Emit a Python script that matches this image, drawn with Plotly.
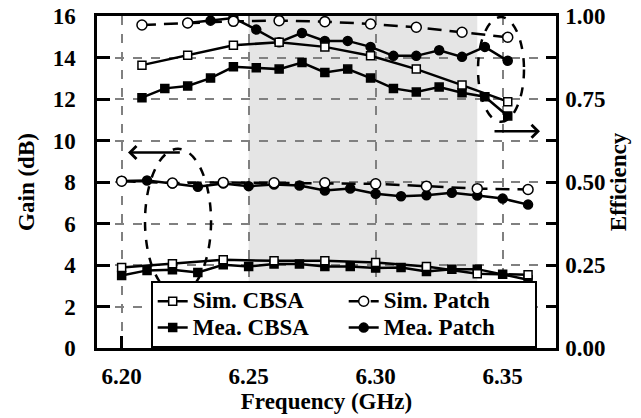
import plotly.graph_objects as go

# ---------------- data ----------------
# efficiency group (right axis)
freq_eff_mea = [6.208, 6.217, 6.226, 6.235, 6.244, 6.253, 6.262, 6.271, 6.280,
                6.289, 6.298, 6.307, 6.316, 6.325, 6.334, 6.343, 6.352]
freq_eff_sim = [6.208, 6.226, 6.244, 6.262, 6.280, 6.298, 6.316, 6.334, 6.352]
freq_eff_mea_patch = [6.226, 6.235, 6.244, 6.253, 6.262, 6.271, 6.280, 6.289,
                      6.298, 6.307, 6.316, 6.325, 6.334, 6.343, 6.352]

sim_cbsa_eff = [0.852, 0.882, 0.912, 0.921, 0.907, 0.880, 0.840, 0.792, 0.742]
sim_patch_eff = [0.973, 0.979, 0.984, 0.986, 0.983, 0.976, 0.966, 0.951, 0.936]
mea_cbsa_eff = [0.754, 0.782, 0.789, 0.813, 0.847, 0.844, 0.840, 0.860, 0.830,
                0.840, 0.813, 0.782, 0.771, 0.786, 0.769, 0.757, 0.699]
mea_patch_eff = [0.979, 0.986, 0.994, 0.959, 0.921, 0.949, 0.925, 0.925, 0.907,
                 0.880, 0.880, 0.897, 0.877, 0.907, 0.865]

# gain group (left axis)
freq_gain_mea = [6.20, 6.21, 6.22, 6.23, 6.24, 6.25, 6.26, 6.27, 6.28, 6.29,
                 6.30, 6.31, 6.32, 6.33, 6.34, 6.35, 6.36]
freq_gain_sim = [6.20, 6.22, 6.24, 6.26, 6.28, 6.30, 6.32, 6.34, 6.36]

sim_patch_gain = [8.04, 7.95, 7.98, 7.96, 7.96, 7.91, 7.80, 7.68, 7.64]
mea_patch_gain = [8.05, 8.07, 7.93, 7.77, 7.93, 7.80, 7.88, 7.83, 7.59, 7.69,
                  7.43, 7.31, 7.36, 7.48, 7.35, 7.20, 6.91]
sim_cbsa_gain = [3.88, 4.06, 4.25, 4.20, 4.20, 4.12, 3.93, 3.58, 3.53]
mea_cbsa_gain = [3.49, 3.74, 3.77, 3.64, 4.01, 3.93, 4.05, 4.05, 3.93, 3.93,
                 3.85, 3.88, 3.69, 3.80, 3.80, 3.56, 3.29]

x_ticks = [6.20, 6.25, 6.30, 6.35]
x_tick_labels = ["<b>6.20</b>", "<b>6.25</b>", "<b>6.30</b>", "<b>6.35</b>"]
band = [6.25, 6.34]

# ---------------- style ----------------
FONT = "Liberation Serif"
FS = 23
LW = 2.5
styles = {
    "Sim. CBSA": dict(symbol="square", size=8, color="white", dash="solid", rank=1),
    "Sim. Patch": dict(symbol="circle", size=10, color="white", dash="14px,8px", rank=2),
    "Mea. CBSA": dict(symbol="square", size=8, color="black", dash="solid", rank=3),
    "Mea. Patch": dict(symbol="circle", size=9, color="black", dash="solid", rank=4),
}

fig = go.Figure()


def add(name, x, y, axis, show):
    s = styles[name]
    label = "<b><span style='font-size:%dpx'>%s</span></b>" % (FS, name)
    fig.add_trace(go.Scatter(
        x=x, y=y, name=label, mode="lines+markers", yaxis=axis,
        showlegend=show, legendrank=s["rank"],
        line=dict(color="black", width=LW, dash=s["dash"]),
        marker=dict(symbol=s["symbol"], size=s["size"], color=s["color"],
                    line=dict(color="black", width=1.5)),
    ))


# measured first so the simulated (hollow) markers sit on top
add("Mea. CBSA", freq_gain_mea, mea_cbsa_gain, "y", False)
add("Mea. Patch", freq_gain_mea, mea_patch_gain, "y", False)
add("Sim. CBSA", freq_gain_sim, sim_cbsa_gain, "y", False)
add("Sim. Patch", freq_gain_sim, sim_patch_gain, "y", False)
add("Mea. CBSA", freq_eff_mea, mea_cbsa_eff, "y2", True)
add("Mea. Patch", freq_eff_mea_patch, mea_patch_eff, "y2", True)
add("Sim. CBSA", freq_eff_sim, sim_cbsa_eff, "y2", True)
add("Sim. Patch", freq_eff_sim, sim_patch_eff, "y2", True)

# shaded band
fig.add_shape(type="rect", xref="x", yref="paper", x0=band[0], x1=band[1],
              y0=0, y1=1, fillcolor="#e5e5e5", line=dict(width=0), layer="below")

# dashed ellipses
fig.add_shape(type="circle", xref="x", yref="y", x0=6.2092, x1=6.2352,
              y0=2.6, y1=9.6, line=dict(color="black", width=LW, dash="dash"),
              layer="above")
fig.add_shape(type="circle", xref="x", yref="y", x0=6.3403, x1=6.3584,
              y0=10.9, y1=15.95, line=dict(color="black", width=LW, dash="dash"),
              layer="above")

# arrows
fig.add_annotation(x=6.2025, y=9.42, ax=6.2235, ay=9.42, xref="x", yref="y",
                   axref="x", ayref="y", showarrow=True, arrowhead=4,
                   arrowwidth=LW, arrowsize=1, arrowcolor="black", text="")
fig.add_annotation(x=6.3647, y=10.44, ax=6.3462, ay=10.44, xref="x", yref="y",
                   axref="x", ayref="y", showarrow=True, arrowhead=4,
                   arrowwidth=LW, arrowsize=1, arrowcolor="black", text="")

tick_font = dict(family=FONT, size=FS, color="black")

fig.update_layout(
    width=641, height=418,
    margin=dict(l=97, r=85, t=16, b=70, autoexpand=False),
    paper_bgcolor="white", plot_bgcolor="white",
    font=dict(family=FONT, size=FS, color="black"),
    xaxis=dict(
        range=[6.1903, 6.371], tickvals=x_ticks, ticktext=x_tick_labels,
        ticks="inside", ticklen=12, tickwidth=LW, tickcolor="black",
        showline=True, linecolor="black", linewidth=LW, mirror=True,
        showgrid=True, gridcolor="#808080", gridwidth=1.5, griddash="dash",
        zeroline=False, tickfont=tick_font, ticklabelstandoff=6,
        automargin=False,
        title=dict(text="<b>Frequency (GHz)</b>", font=tick_font, standoff=0),
    ),
    yaxis=dict(
        range=[0, 16], tickvals=list(range(0, 17, 2)),
        ticktext=["<b>%d</b>" % v for v in range(0, 17, 2)],
        ticks="inside", ticklen=13, tickwidth=LW, tickcolor="black",
        showline=True, linecolor="black", linewidth=LW,
        showgrid=True, gridcolor="#808080", gridwidth=1.5, griddash="dash",
        zeroline=False, tickfont=tick_font, ticklabelstandoff=14,
        automargin=False,
        title=dict(text="<b>Gain (dB)</b>", font=tick_font, standoff=12),
    ),
    yaxis2=dict(
        range=[0, 1], tickvals=[0, 0.25, 0.5, 0.75, 1.0],
        ticktext=["<b>%.2f</b>" % v for v in [0, 0.25, 0.5, 0.75, 1.0]],
        overlaying="y", side="right",
        ticks="inside", ticklen=10, tickwidth=LW, tickcolor="black",
        minor=dict(dtick=0.125, ticks="inside", ticklen=10, tickwidth=LW,
                   tickcolor="black"),
        showline=True, linecolor="black", linewidth=LW,
        showgrid=False, zeroline=False, tickfont=tick_font,
        ticklabelstandoff=2, automargin=False,
        title=dict(text="<b>Efficiency</b>", font=tick_font, standoff=2),
    ),
    legend=dict(
        orientation="h", x=0.117, y=0.0, xanchor="left", yanchor="bottom",
        bgcolor="white", bordercolor="black", borderwidth=2,
        entrywidth=146, entrywidthmode="pixels", traceorder="normal",
        font=dict(family=FONT, size=18, color="black"),
        itemsizing="trace", tracegroupgap=0,
    ),
)

fig.write_html("out.html")
